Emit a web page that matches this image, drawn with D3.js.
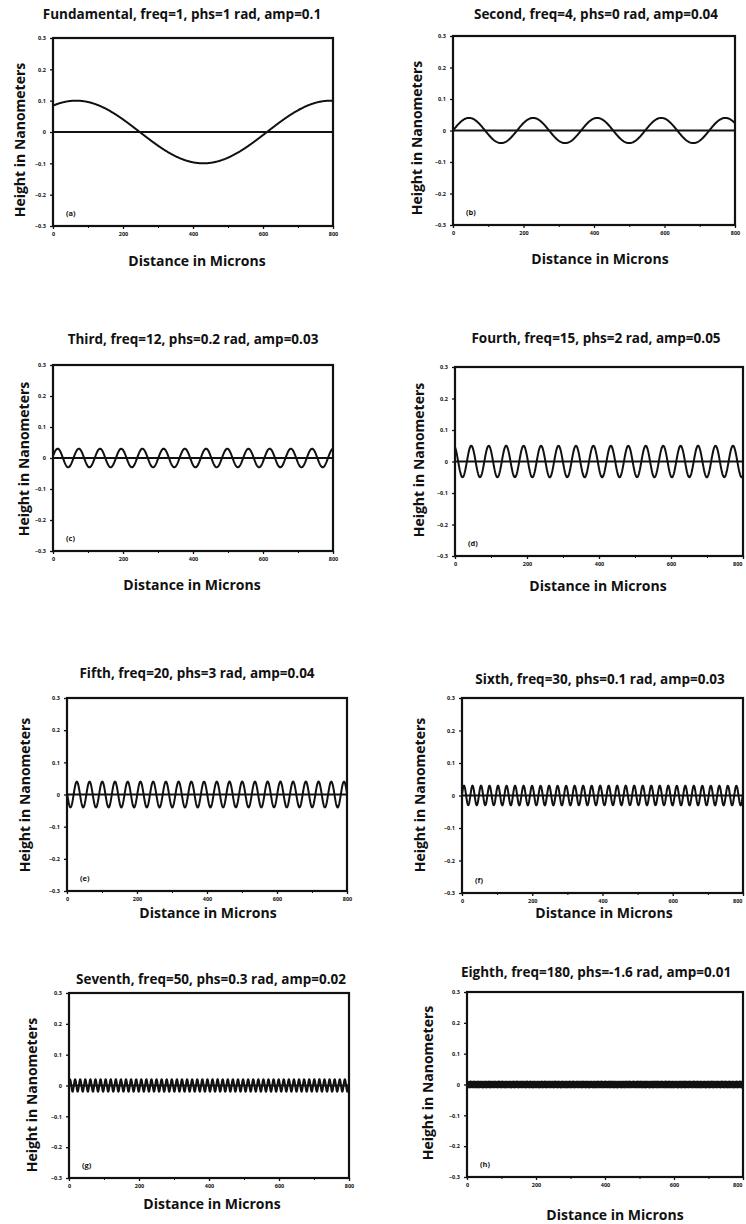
<!DOCTYPE html>
<html>
<head>
<meta charset="utf-8">
<script src="https://cdn.jsdelivr.net/npm/d3@7"></script>
<style>
  html, body { margin: 0; padding: 0; background: #fff; }
  svg { display: block; }
  text { font-family: "Open Sans", "Lato", sans-serif; font-weight: bold; fill: #111; }
</style>
</head>
<body>
<svg id="chart" width="746" height="1224"></svg>
<script>
const titles = [
  "Fundamental, freq=1, phs=1 rad, amp=0.1",
  "Second, freq=4, phs=0 rad, amp=0.04",
  "Third, freq=12, phs=0.2 rad, amp=0.03",
  "Fourth, freq=15, phs=2 rad, amp=0.05",
  "Fifth, freq=20, phs=3 rad, amp=0.04",
  "Sixth, freq=30, phs=0.1 rad, amp=0.03",
  "Seventh, freq=50, phs=0.3 rad, amp=0.02",
  "Eighth, freq=180, phs=-1.6 rad, amp=0.01"
];
const letters = ["(a)", "(b)", "(c)", "(d)", "(e)", "(f)", "(g)", "(h)"];
const freqs  = [1, 4, 12, 15, 20, 30, 50, 180];
const phases = [1, 0, 0.2, 2, 3, 0.1, 0.3, -1.6];
const amps   = [0.1, 0.04, 0.03, 0.05, 0.04, 0.03, 0.02, 0.01];
const yTicks = [-0.3, -0.2, -0.1, 0, 0.1, 0.2, 0.3];
const xTicks = [0, 200, 400, 600, 800];
const xMinor = [100, 300, 500, 700];
const xDomain = [0, 800];
const fundamentalLength = 727;   // wavelength of freq=1
const yLabel = "Height in Nanometers";
const xLabel = "Distance in Microns";

// ---- layout ----
// [left, top, right, bottom, titleX, titleY, ylabelX, ylabelY, xlabelX, xlabelY]
const layout = [
  [53, 38, 333, 226, 182, 19, 20, 140, 197, 266],
  [453, 36, 735, 225, 596, 19, 417, 138, 600, 264],
  [53, 365, 333, 551, 193, 344, 24, 459, 192, 590],
  [455, 367, 743, 556, 596, 343, 419, 460, 598, 591],
  [67, 698, 347, 891, 197, 678, 25, 795, 208, 918],
  [462, 698, 743, 893, 600, 684, 420, 795, 604, 918],
  [69, 993, 349, 1178, 211, 984, 32, 1095, 212, 1209],
  [467, 992, 743, 1177, 596, 977, 428, 1083, 615, 1220]
];

const svg = d3.select("#chart");

titles.forEach((title, i) => {
  const [L, T, R, B, tx, ty, ylx, yly, xlx, xly] = layout[i];
  const x = d3.scaleLinear().domain(xDomain).range([L, R]);
  const y = d3.scaleLinear().domain([-0.3, 0.3]).range([B, T]);
  const g = svg.append("g");

  // title
  g.append("text").attr("x", tx).attr("y", ty).attr("text-anchor", "middle")
    .style("font-size", "13.5px").text(title);

  // axis labels
  g.append("text").attr("transform", `translate(${ylx + 5},${yly}) rotate(-90)`)
    .attr("text-anchor", "middle").style("font-size", "14px").text(yLabel);
  g.append("text").attr("x", xlx).attr("y", xly).attr("text-anchor", "middle")
    .style("font-size", "14px").text(xLabel);

  // zero line
  g.append("line").attr("x1", x(xDomain[0])).attr("x2", x(xDomain[1]))
    .attr("y1", y(0)).attr("y2", y(0)).attr("stroke", "#111").attr("stroke-width", 2);

  // sine curve from title parameters
  const n = Math.max(600, freqs[i] * 40);
  const pts = d3.range(n + 1).map(k => {
    const d = xDomain[0] + (xDomain[1] - xDomain[0]) * k / n;
    return [d, amps[i] * Math.sin(2 * Math.PI * freqs[i] * d / fundamentalLength + phases[i])];
  });
  g.append("path").datum(pts)
    .attr("d", d3.line().x(p => x(p[0])).y(p => y(p[1])))
    .attr("fill", "none").attr("stroke", "#111")
    .attr("stroke-width", i === 7 ? 1.4 : 2);

  // y axis
  const ya = g.append("g").attr("transform", `translate(${L},0)`)
    .call(d3.axisLeft(y).tickValues(yTicks).tickSize(3));
  ya.selectAll("text").style("font-size", "5.5px").attr("dx", "-0.2em")
    .text(d => d === 0 ? "0" : d3.format(".1f")(d));
  ya.select(".domain").remove();
  ya.selectAll("line").attr("stroke", "#111").attr("stroke-width", 1.3);

  // x axis
  const xa = g.append("g").attr("transform", `translate(0,${B})`)
    .call(d3.axisBottom(x).tickValues(xTicks).tickSize(3));
  xa.selectAll("text").style("font-size", "5.5px")
    .attr("text-anchor", d => x(d) > 738 ? "end" : "middle")
    .attr("dx", d => x(d) > 738 ? "-1" : "0");
  xa.select(".domain").remove();
  xa.selectAll("line").attr("stroke", "#111").attr("stroke-width", 1.3);
  const xm = g.append("g").attr("transform", `translate(0,${B})`)
    .call(d3.axisBottom(x).tickValues(xMinor).tickSize(2).tickFormat(""));
  xm.select(".domain").remove();
  xm.selectAll("line").attr("stroke", "#111").attr("stroke-width", 1);

  // frame
  g.append("rect").attr("x", L).attr("y", T).attr("width", R - L).attr("height", B - T)
    .attr("fill", "none").attr("stroke", "#111").attr("stroke-width", 2.2);

  // panel letter
  g.append("text").attr("x", L + 13).attr("y", B - 10).style("font-size", "7.5px").text(letters[i]);
});
</script>
</body>
</html>
